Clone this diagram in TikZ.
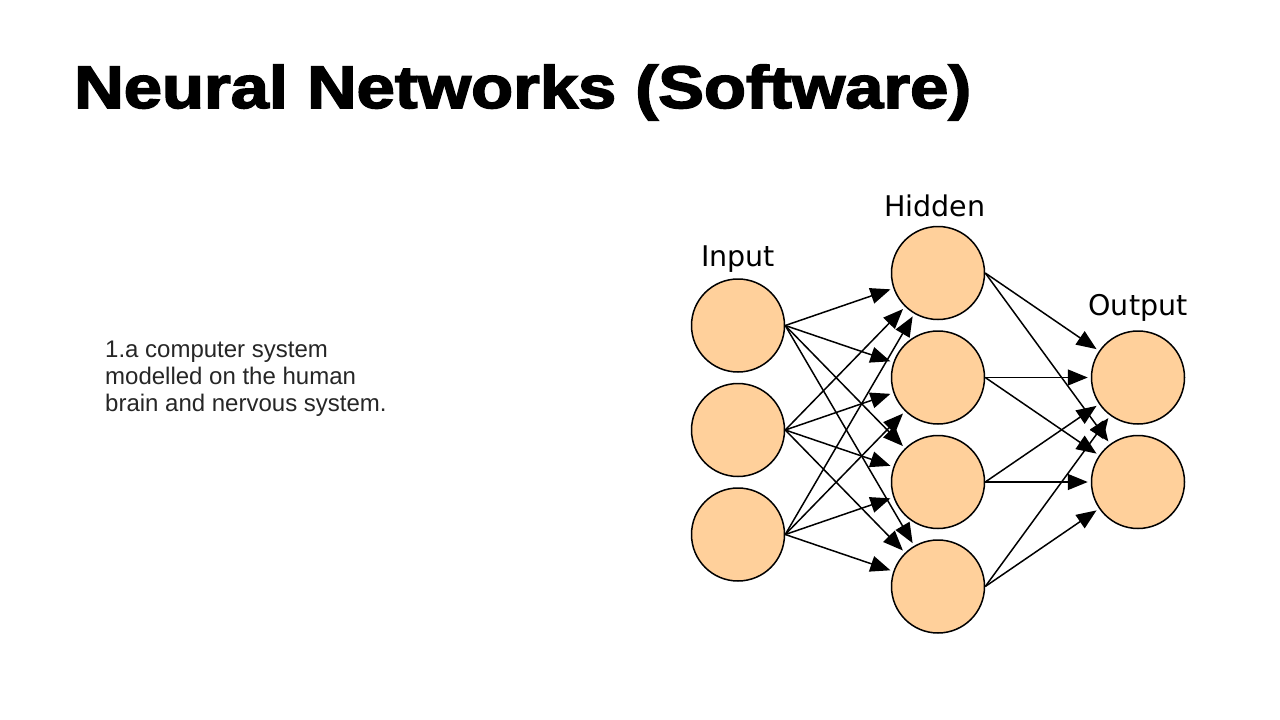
\documentclass[tikz,border=0pt]{standalone}
\usepackage{fontspec}
\setmainfont{Liberation Sans}
\newfontfamily\titlefont[FakeBold=2.5]{Liberation Sans Bold}
\newfontfamily\labelfont{DejaVu Sans}
\usetikzlibrary{arrows.meta}
\definecolor{peach}{HTML}{FFD09B}
\definecolor{bodytext}{HTML}{262626}
\tikzset{
  neuron/.style={circle, draw=black, line width=1.5pt, fill=peach, minimum size=93pt, inner sep=0pt},
  edge/.style={draw=black, line width=1.5pt, shorten >=3pt, -{Triangle[length=20pt,width=16pt]}},
  layerlabel/.style={anchor=base, inner sep=0pt, font=\labelfont\fontsize{28.5}{34}\selectfont},
}
\begin{document}
\begin{tikzpicture}[x=1pt,y=-1pt]
\useasboundingbox[fill=white] (0,0) rectangle (1280,720);
% title
\node[anchor=base west, inner sep=0pt] (title) at (74,108) {\titlefont\fontsize{60}{72}\selectfont\scalebox{1.145}[1]{Neural Networks (Software)}};
% body text
\node[anchor=base west, inner sep=0pt, align=left, text=bodytext, font=\fontsize{24}{26.8}\selectfont] (body) at (105,411)
  {1.a computer system\\modelled on the human\\brain and nervous system.};
% neurons
\node[neuron] (i1) at (738,325.5) {};
\node[neuron] (i2) at (738,430) {};
\node[neuron] (i3) at (738,534.5) {};
\node[neuron] (h1) at (938,273) {};
\node[neuron] (h2) at (938,377.5) {};
\node[neuron] (h3) at (938,482) {};
\node[neuron] (h4) at (938,586.5) {};
\node[neuron] (o1) at (1138,377.5) {};
\node[neuron] (o2) at (1138,482) {};
% labels
\node[layerlabel] (linput) at (738,266) {Input};
\node[layerlabel] (lhidden) at (935,216) {Hidden};
\node[layerlabel] (loutput) at (1138,315) {Output};
% edges
\foreach \i in {1,2,3}{
  \foreach \h in {1,2,3,4}{
    \draw[edge] (i\i.east) -- (h\h);
  }
}
\foreach \h in {1,2,3,4}{
  \foreach \o in {1,2}{
    \draw[edge] (h\h.east) -- (o\o);
  }
}
\end{tikzpicture}
\end{document}
